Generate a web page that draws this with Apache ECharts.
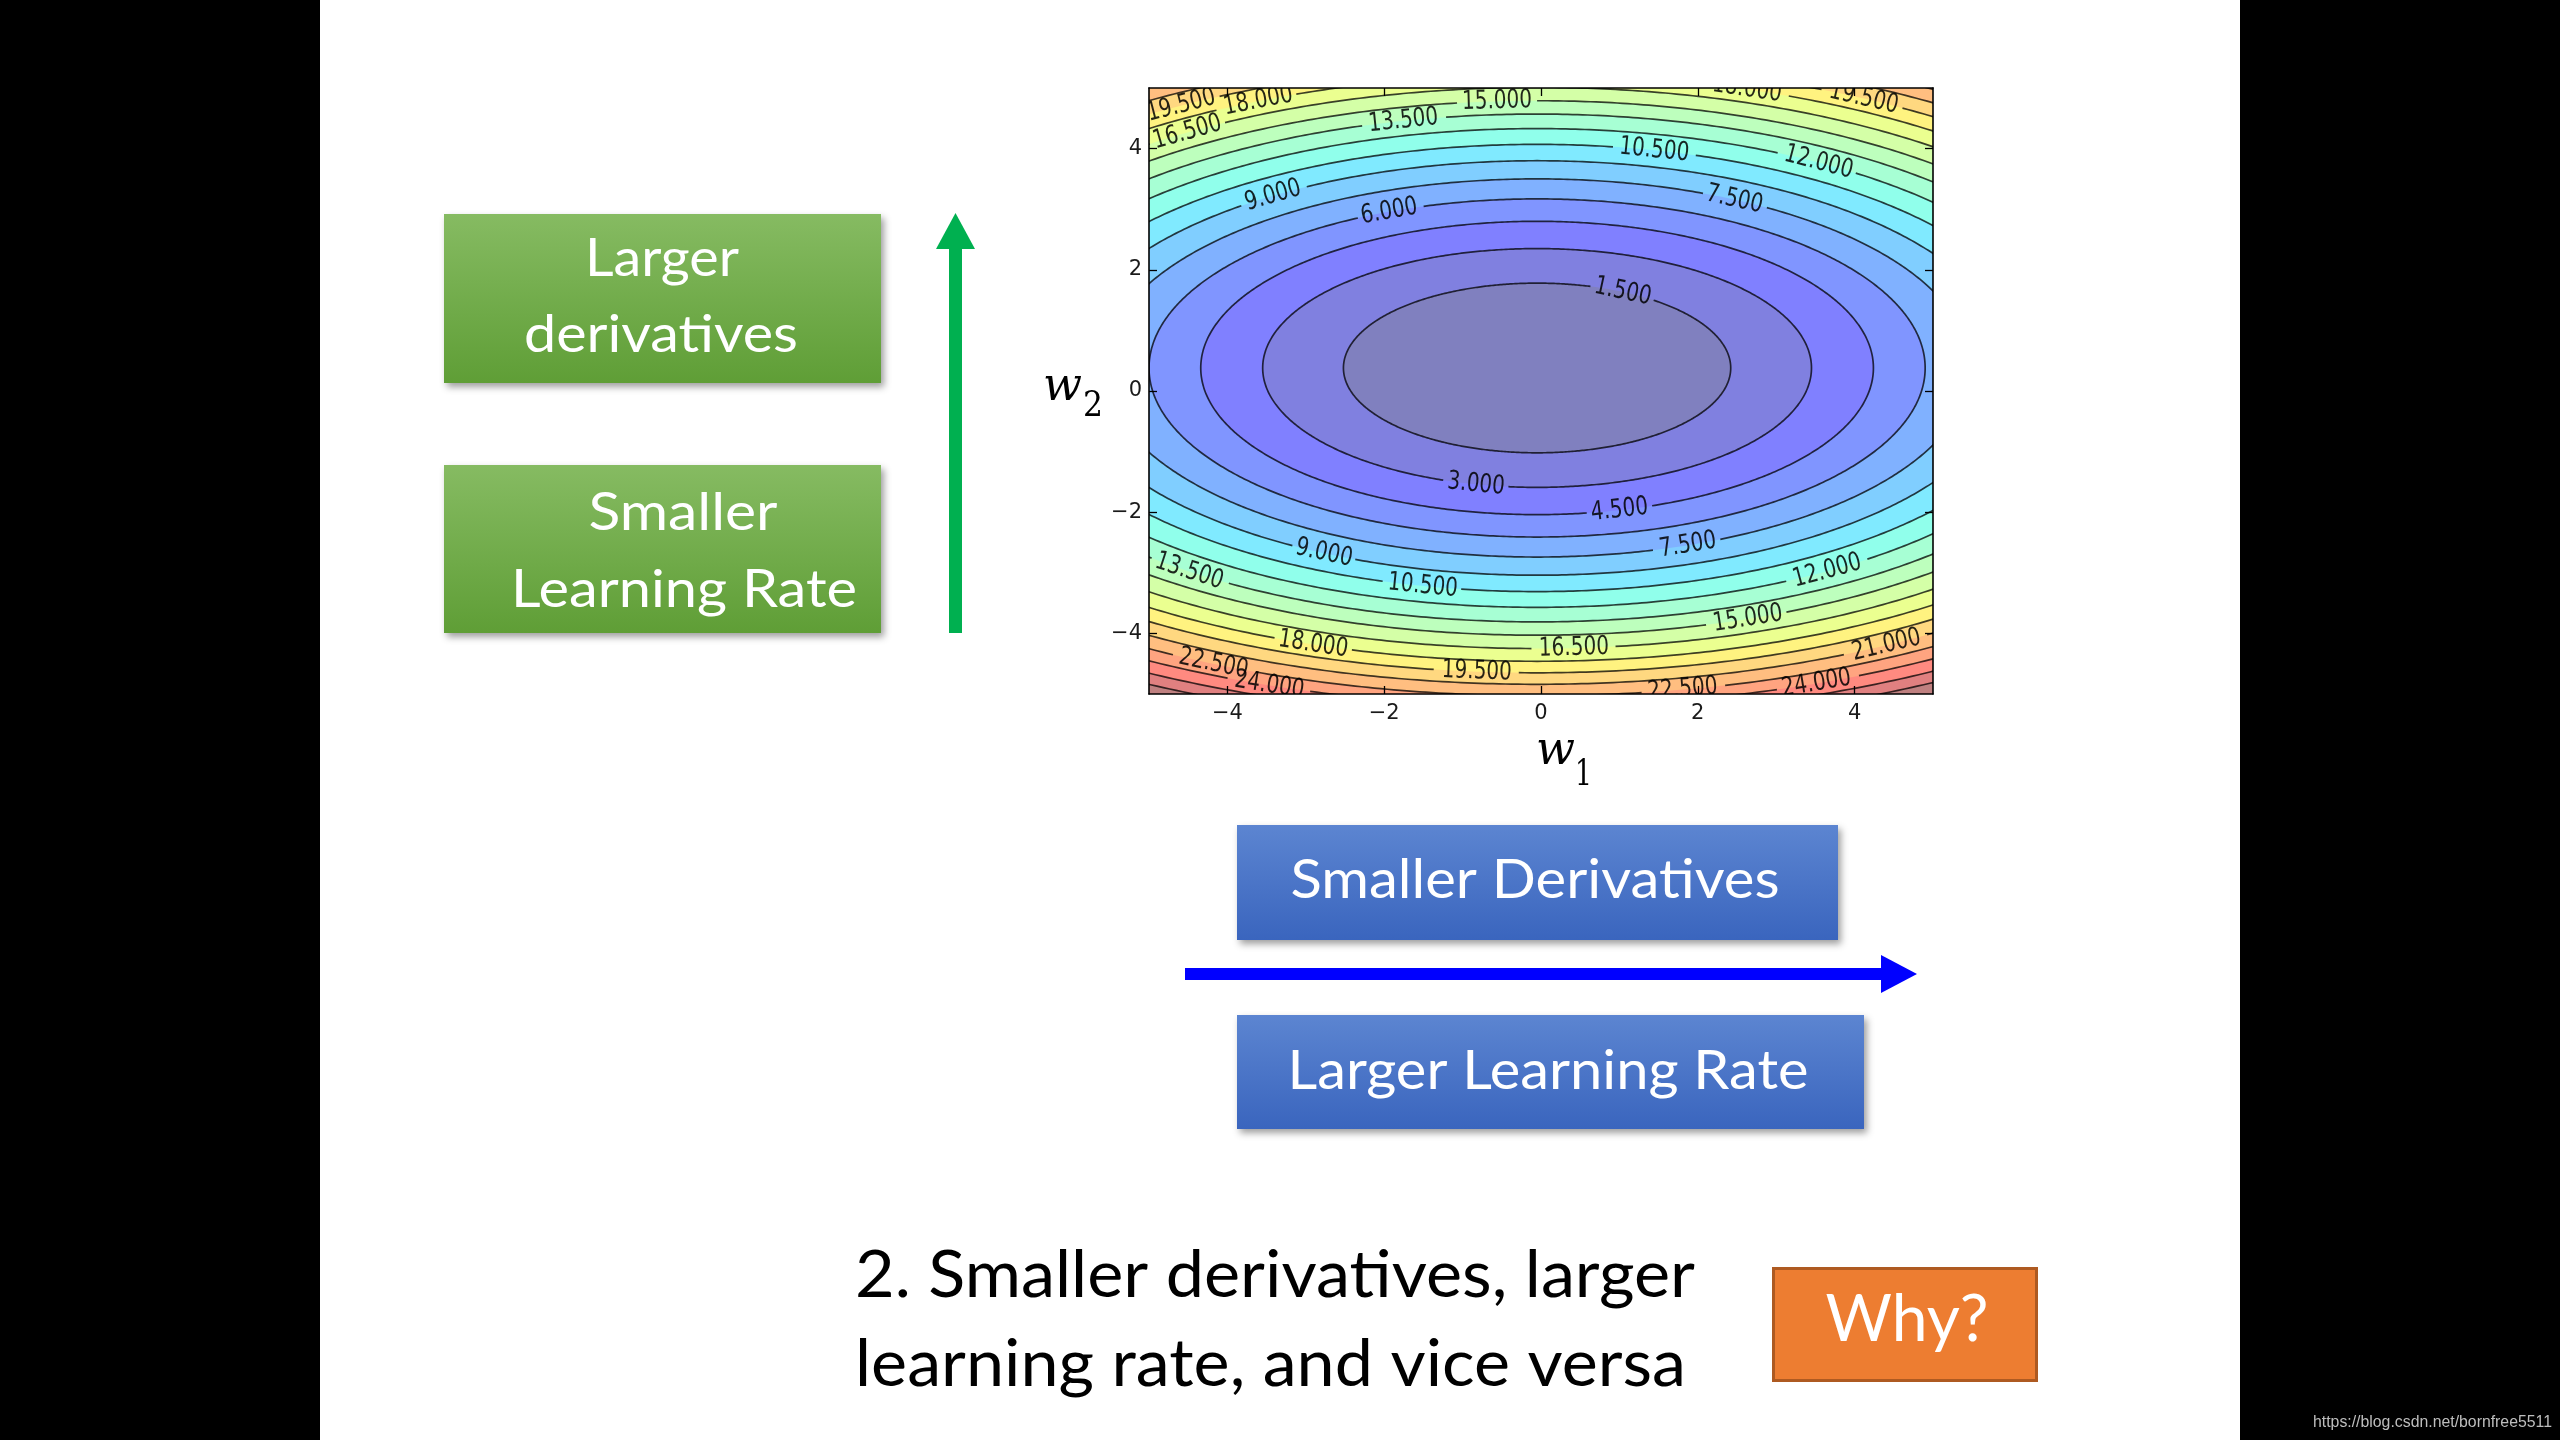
<!DOCTYPE html>
<html>
<head>
<meta charset="utf-8">
<script src="https://cdn.jsdelivr.net/npm/echarts@6/dist/echarts.min.js"></script>
<style>
html,body{margin:0;padding:0;background:#000;}
#c{width:2560px;height:1440px;}
</style>
</head>
<body>
<div id="c"></div>
<script>
// ---------------- data ----------------
const xTicks = [-4, -2, 0, 2, 4];
const yTicks = [-4, -2, 0, 2, 4];
const axisMin = -5;
const axisMax = 5;
// contour levels and the semi-axes of each level's ellipse (w1 and w2 directions)
const levels = [1.5, 3, 4.5, 6, 7.5, 9, 10.5, 12, 13.5, 15, 16.5, 18, 19.5, 21, 22.5, 24, 25.5, 27];
const semiW1 = [2.47, 3.50, 4.29, 4.95, 5.53, 6.06, 6.55, 7.00, 7.42, 7.82, 8.21, 8.57, 8.92, 9.26, 9.58, 9.90, 10.20, 10.50];
const semiW2 = [1.40, 1.97, 2.42, 2.79, 3.12, 3.42, 3.69, 3.95, 4.19, 4.41, 4.63, 4.84, 5.03, 5.22, 5.41, 5.58, 5.76, 5.92];
const centre = [-0.05, 0.38];
// inline contour labels: level and approximate position
const labelLevel = [19.5, 18, 16.5, 13.5, 15, 18, 19.5, 10.5, 12, 9, 6, 7.5, 1.5,
                    3, 4.5, 9, 7.5, 13.5, 10.5, 12, 15, 18, 16.5, 21, 22.5, 19.5, 24, 22.5, 24];
const labelW1 = [-4.58, -3.62, -4.56, -1.76, -0.56, 2.60, 4.10, 1.43, 3.55, -3.39, -1.93, 2.46, 1.03,
                 -0.82, 1.00, -2.77, 1.87, -4.57, -1.50, 3.67, 2.67, -2.91, 0.42, 4.45, -4.15, -0.82, -3.46, 1.79, 3.51];
const labelW2 = [4.70, 4.80, 4.31, 4.47, 4.77, 4.93, 4.81, 3.94, 3.78, 3.20, 2.95, 3.15, 1.62,
                 -1.52, -1.96, -2.68, -2.54, -3.04, -3.20, -2.99, -3.81, -4.19, -4.24, -4.24, -4.47, -4.64, -4.85, -4.88, -4.82];

// ---------------- styles ----------------
const bandColors = ['#8080BF', '#8080E0', '#8080FF', '#8095FF', '#80B1FF', '#80CEFF', '#80EAFF', '#90FFEB',
  '#A7FFD4', '#BDFFBD', '#D4FFA7', '#EBFF90', '#FFF380', '#FFD880', '#FFBE80', '#FFA480', '#FF8A80', '#E08080', '#BF8080'];
const LABEL_SIZE = 26;
const LABEL_FAMILY = 'DejaVu Sans';
const LABEL_SX = 0.77;
const LINE_COLOR = 'rgba(0,0,0,0.75)';

const mctx = document.createElement('canvas').getContext('2d');
function textWidth(text, size, family, style) {
  mctx.font = (style ? style + ' ' : '') + size + 'px "' + family + '"';
  return mctx.measureText(text).width;
}

function ellipsePoints(api, i, n) {
  const A = semiW1[i], B = semiW2[i];
  const pts = [];
  for (let k = 0; k < n; k++) {
    const t = 2 * Math.PI * k / n;
    pts.push(api.coord([centre[0] + A * Math.cos(t), centre[1] + B * Math.sin(t)]));
  }
  return pts;
}

function labelAnchor(api, j) {
  const i = levels.indexOf(labelLevel[j]);
  const A = semiW1[i], B = semiW2[i];
  const th = Math.atan2((labelW2[j] - centre[1]) / B, (labelW1[j] - centre[0]) / A);
  const dx = centre[0] + A * Math.cos(th), dy = centre[1] + B * Math.sin(th);
  const p = api.coord([dx, dy]);
  const e = 1e-3;
  const q = api.coord([dx - A * Math.sin(th) * e, dy + B * Math.cos(th) * e]);
  let rot = Math.atan2(-(q[1] - p[1]), q[0] - p[0]);
  if (rot > Math.PI / 2) rot -= Math.PI;
  if (rot < -Math.PI / 2) rot += Math.PI;
  const text = labelLevel[j].toFixed(3);
  const half = textWidth(text, LABEL_SIZE, LABEL_FAMILY) * LABEL_SX / 2 + 3;
  return { x: p[0], y: p[1], rot: rot, text: text, half: half };
}

// ---------------- slide decoration ----------------
function slideText(text, o) {
  const w = textWidth(text, o.size, o.family, o.fontStyle);
  const sx = o.width ? o.width / w : 1;
  return {
    type: 'text', z: 30, x: o.x, y: o.baseline - o.k * o.size, scaleX: sx,
    style: {
      text: text, fontSize: o.size, fontFamily: o.family, fontStyle: o.fontStyle || 'normal',
      fill: o.color || '#fff', align: o.align || 'center', verticalAlign: 'middle'
    }
  };
}
const LATO_K = 0.387, DV_K = 0.346;
function grad(c0, c1) {
  return { type: 'linear', x: 0, y: 0, x2: 0, y2: 1, colorStops: [{ offset: 0, color: c0 }, { offset: 1, color: c1 }] };
}
const boxShadow = { shadowBlur: 7, shadowOffsetX: 3, shadowOffsetY: 4, shadowColor: 'rgba(0,0,0,0.38)' };
function box(x, y, w, h, fill) {
  return { type: 'rect', z: 20, shape: { x: x, y: y, width: w, height: h }, style: Object.assign({ fill: fill }, boxShadow) };
}

const graphics = [
  { type: 'rect', z: -10, shape: { x: 320, y: 0, width: 1920, height: 1440 }, style: { fill: '#ffffff' } },
  box(444, 214, 437, 169, grad('#86BB62', '#5F9E36')),
  box(444, 465, 437, 168, grad('#86BB62', '#5F9E36')),
  box(1237, 825, 601, 115, grad('#5C85D1', '#3A65BE')),
  box(1237, 1015, 627, 114, grad('#5C85D1', '#3A65BE')),
  { type: 'rect', z: 20, shape: { x: 1773.5, y: 1268.5, width: 263, height: 112 }, style: { fill: '#ED7D31', stroke: '#AE5A21', lineWidth: 3 } },
  // green vertical arrow
  { type: 'rect', z: 20, shape: { x: 949, y: 247, width: 13, height: 386 }, style: { fill: '#00B050' } },
  { type: 'polygon', z: 20, shape: { points: [[936, 249], [955.5, 213], [975, 249]] }, style: { fill: '#00B050' } },
  // blue horizontal arrow
  { type: 'rect', z: 20, shape: { x: 1185, y: 968, width: 698, height: 12 }, style: { fill: '#0000FF' } },
  { type: 'polygon', z: 20, shape: { points: [[1881, 955], [1917, 974], [1881, 993]] }, style: { fill: '#0000FF' } },
  slideText('Larger', { x: 662, baseline: 279, size: 52, family: 'Lato', k: LATO_K, width: 154 }),
  slideText('derivatives', { x: 661, baseline: 355, size: 52, family: 'Lato', k: LATO_K, width: 274 }),
  slideText('Smaller', { x: 683, baseline: 533, size: 52, family: 'Lato', k: LATO_K, width: 189 }),
  slideText('Learning Rate', { x: 684, baseline: 610, size: 52, family: 'Lato', k: LATO_K, width: 346 }),
  slideText('Smaller Derivatives', { x: 1535, baseline: 901, size: 54, family: 'Lato', k: LATO_K, width: 489 }),
  slideText('Larger Learning Rate', { x: 1548, baseline: 1092, size: 54, family: 'Lato', k: LATO_K, width: 521 }),
  slideText('2. Smaller derivatives, larger', { x: 855, baseline: 1301, size: 66, family: 'Lato', k: LATO_K, width: 840, align: 'left', color: '#000' }),
  slideText('learning rate, and vice versa', { x: 855, baseline: 1390, size: 66, family: 'Lato', k: LATO_K, width: 831, align: 'left', color: '#000' }),
  slideText('Why?', { x: 1907, baseline: 1345, size: 66, family: 'Lato', k: LATO_K, width: 163 }),
  slideText('https://blog.csdn.net/bornfree5511', { x: 2313, baseline: 1428, size: 16, family: 'Liberation Sans', k: DV_K, width: 239, align: 'left', color: '#bdbdbd' }),
  // axis titles w2 / w1
  slideText('w', { x: 1043, baseline: 404, size: 46, family: 'DejaVu Serif', fontStyle: 'italic', k: DV_K, width: 39, align: 'left', color: '#000' }),
  slideText('2', { x: 1083, baseline: 419, size: 36, family: 'DejaVu Serif', k: DV_K, width: 20, align: 'left', color: '#000' }),
  slideText('w', { x: 1536, baseline: 768, size: 46, family: 'DejaVu Serif', fontStyle: 'italic', k: DV_K, width: 39, align: 'left', color: '#000' }),
  slideText('1', { x: 1575, baseline: 788, size: 36, family: 'DejaVu Serif', k: DV_K, width: 17, align: 'left', color: '#000' })
];

// ---------------- contour chart ----------------
const tickFmt = v => (v < 0 ? '\u2212' + Math.abs(v) : String(v));
function valueAxis(position, showLabel, ticks) {
  return {
    type: 'value', min: axisMin, max: axisMax, position: position, z: 10,
    axisLine: { show: true, onZero: false, lineStyle: { color: '#000', width: 1.6 } },
    axisTick: { show: true, inside: true, length: 8, customValues: ticks, lineStyle: { color: '#000', width: 1.3 } },
    axisLabel: {
      show: showLabel, customValues: ticks, formatter: tickFmt, fontSize: 21, color: '#1a1a1a',
      fontFamily: 'DejaVu Sans', margin: position === 'bottom' ? 9 : 7
    },
    splitLine: { show: false }
  };
}

const ellipseData = levels.map((L, i) => [centre[0], centre[1], semiW1[i], semiW2[i], L]);
const bandOrder = levels.map((L, i) => i).reverse();

const option = {
  backgroundColor: '#000',
  animation: false,
  graphic: { elements: graphics },
  grid: { left: 1149, top: 88, width: 784, height: 606, containLabel: false },
  xAxis: [valueAxis('bottom', true, xTicks), valueAxis('top', false, xTicks)],
  yAxis: [valueAxis('left', true, yTicks), valueAxis('right', false, yTicks)],
  series: [
    {
      type: 'custom', name: 'bands', clip: true, silent: true, xAxisIndex: 0, yAxisIndex: 0,
      data: bandOrder.map(i => ellipseData[i]), encode: { x: 0, y: 1 },
      renderItem: function (params, api) {
        const i = bandOrder[params.dataIndex];
        const poly = { type: 'polygon', shape: { points: ellipsePoints(api, i, 360) }, style: { fill: bandColors[i] } };
        if (params.dataIndex === 0) {
          const p0 = api.coord([axisMin, axisMax]), p1 = api.coord([axisMax, axisMin]);
          return {
            type: 'group', children: [
              { type: 'rect', shape: { x: p0[0], y: p0[1], width: p1[0] - p0[0], height: p1[1] - p0[1] }, style: { fill: bandColors[levels.length] } },
              poly
            ]
          };
        }
        return poly;
      }
    },
    {
      type: 'custom', name: 'lines', clip: true, silent: true, xAxisIndex: 0, yAxisIndex: 0,
      data: ellipseData, encode: { x: 0, y: 1 },
      renderItem: function (params, api) {
        const i = params.dataIndex;
        const pts = ellipsePoints(api, i, 720);
        const anchors = [];
        labelLevel.forEach((L, j) => { if (L === levels[i]) anchors.push(labelAnchor(api, j)); });
        const keep = pts.map(p => anchors.every(a => Math.hypot(p[0] - a.x, p[1] - a.y) > a.half));
        const style = { stroke: LINE_COLOR, lineWidth: 1.7, fill: null };
        const start = keep.indexOf(false);
        if (start < 0) {
          return { type: 'polyline', shape: { points: pts.concat([pts[0]]) }, style: style };
        }
        const runs = [];
        let cur = [];
        for (let k = 1; k <= pts.length; k++) {
          const idx = (start + k) % pts.length;
          if (keep[idx]) cur.push(pts[idx]);
          else if (cur.length) { runs.push(cur); cur = []; }
        }
        if (cur.length) runs.push(cur);
        return {
          type: 'group',
          children: runs.filter(r => r.length > 1).map(r => ({ type: 'polyline', shape: { points: r }, style: style }))
        };
      }
    },
    {
      type: 'custom', name: 'labels', clip: true, silent: true, xAxisIndex: 0, yAxisIndex: 0,
      data: labelLevel.map((L, j) => [labelW1[j], labelW2[j], L]), encode: { x: 0, y: 1 },
      renderItem: function (params, api) {
        const a = labelAnchor(api, params.dataIndex);
        return {
          type: 'text', x: a.x, y: a.y, rotation: a.rot, scaleX: LABEL_SX,
          style: {
            text: a.text, fontSize: LABEL_SIZE, fontFamily: LABEL_FAMILY, fill: 'rgba(0,0,0,0.85)',
            align: 'center', verticalAlign: 'middle'
          }
        };
      }
    }
  ]
};

const chart = echarts.init(document.getElementById('c'), null, { width: 2560, height: 1440 });
chart.setOption(option);
</script>
</body>
</html>
